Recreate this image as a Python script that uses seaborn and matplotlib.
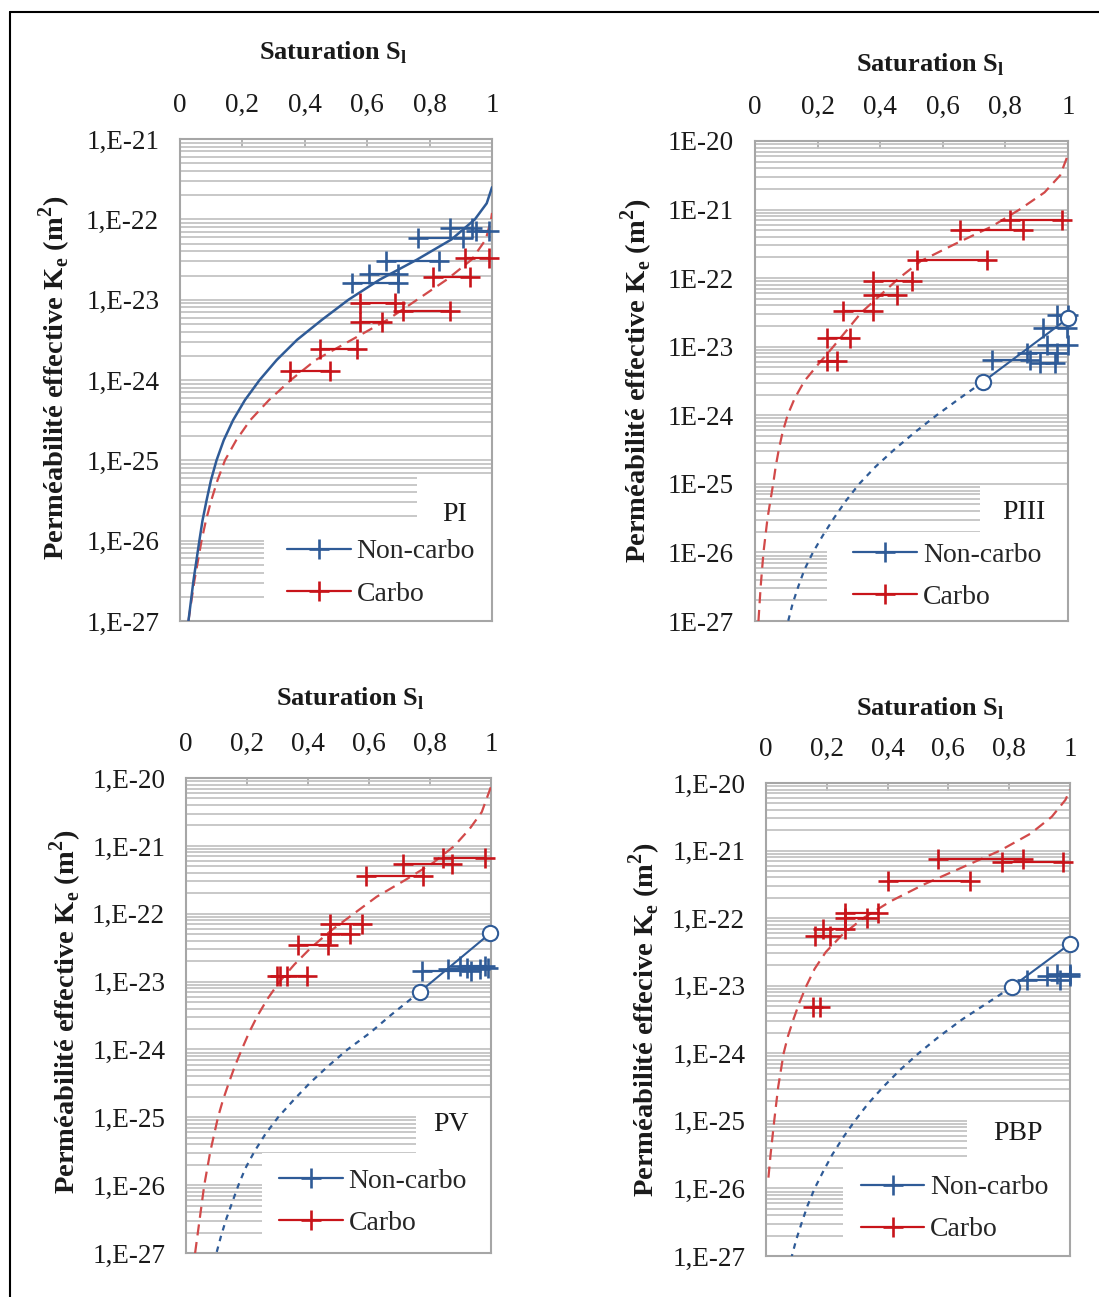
import numpy as np
import pandas as pd
import seaborn as sns
import matplotlib
matplotlib.use("Agg")
import matplotlib.pyplot as plt
from matplotlib.lines import Line2D
from matplotlib.patches import Rectangle
from matplotlib.ticker import LogLocator, NullFormatter

# ---------------- data ----------------
# measured ranges: permeability K (m2), saturation min / max
# PI
pi_nc_k = [7.9e-23, 7.1e-23, 5.8e-23, 3.0e-23, 2.1e-23, 1.6e-23]
pi_nc_s1 = [0.865, 0.95, 0.764, 0.66, 0.607, 0.55]
pi_nc_s2 = [0.935, 0.99, 0.908, 0.83, 0.70, 0.70]
pi_c_k = [3.3e-23, 1.9e-23, 9.0e-24, 7.2e-24, 5.3e-24, 2.4e-24, 1.3e-24]
pi_c_s1 = [0.913, 0.81, 0.577, 0.716, 0.577, 0.449, 0.353]
pi_c_s2 = [0.99, 0.93, 0.689, 0.865, 0.646, 0.566, 0.481]
# fitted curves (saturation, log10 K)
pi_nc_fit_s = [0.027, 0.043, 0.062, 0.072, 0.085, 0.099, 0.117, 0.14, 0.17, 0.208, 0.255,
               0.31, 0.375, 0.455, 0.54, 0.64, 0.76, 0.87, 0.945, 0.983, 1.0]
pi_nc_fit_logk = [-27, -26.5, -26, -25.75, -25.5, -25.25, -25, -24.75, -24.5, -24.25, -24,
                  -23.75, -23.5, -23.25, -23, -22.75, -22.5, -22.25, -22, -21.8, -21.6]
pi_c_fit_s = [0.027, 0.046, 0.069, 0.083, 0.10, 0.12, 0.144, 0.18, 0.225, 0.285, 0.355,
              0.435, 0.55, 0.665, 0.76, 0.855, 0.935, 0.98, 0.997, 1.0]
pi_c_fit_logk = [-27, -26.5, -26, -25.75, -25.5, -25.25, -25, -24.75, -24.5, -24.25, -24,
                 -23.75, -23.5, -23.25, -23, -22.75, -22.5, -22.25, -22, -21.92]

# PIII
piii_nc_k = [2.9e-23, 1.86e-23, 1.07e-23, 8.1e-24, 6.4e-24, 5.7e-24]
piii_nc_s1 = [0.964, 0.921, 0.932, 0.868, 0.756, 0.91]
piii_nc_s2 = [1.0, 0.996, 1.0, 0.964, 0.879, 0.958]
piii_c_k = [7.05e-22, 5.0e-22, 1.84e-22, 9.1e-23, 5.7e-23, 3.3e-23, 1.33e-23, 6.2e-24]
piii_c_s1 = [0.815, 0.655, 0.516, 0.378, 0.378, 0.282, 0.229, 0.229]
piii_c_s2 = [0.98, 0.857, 0.74, 0.50, 0.453, 0.378, 0.304, 0.261]
piii_nc_fit_s = [0.729, 1.0]
piii_nc_fit_logk = [-23.51, -22.585]
piii_nc_ext_s = [0.729, 0.655, 0.58, 0.51, 0.445, 0.385, 0.333, 0.29, 0.252, 0.217, 0.185,
                 0.158, 0.138, 0.12, 0.106]
piii_nc_ext_logk = [-23.51, -23.75, -24, -24.25, -24.5, -24.75, -25, -25.25, -25.5, -25.75,
                    -26, -26.25, -26.5, -26.75, -27]
piii_c_fit_s = [0.011, 0.018, 0.027, 0.04, 0.058, 0.066, 0.076, 0.088, 0.104, 0.127, 0.158,
                0.203, 0.25, 0.295, 0.34, 0.40, 0.46, 0.53, 0.64, 0.755, 0.845, 0.925,
                0.975, 1.0]
piii_c_fit_logk = [-27, -26.5, -26, -25.5, -25, -24.75, -24.5, -24.25, -24, -23.75, -23.5,
                   -23.25, -23, -22.75, -22.5, -22.25, -22, -21.75, -21.5, -21.25, -21,
                   -20.75, -20.5, -20.2]

# PV
pv_nc_k = [1.45e-23, 1.55e-23, 1.7e-23, 1.6e-23]
pv_nc_s1 = [0.773, 0.86, 0.90, 0.92]
pv_nc_s2 = [0.935, 0.965, 0.98, 0.99]
pv_c_k = [6.7e-22, 5.4e-22, 3.6e-22, 6.95e-23, 5.1e-23, 3.5e-23, 1.21e-23, 1.21e-23]
pv_c_s1 = [0.844, 0.712, 0.592, 0.472, 0.472, 0.368, 0.297, 0.33]
pv_c_s2 = [0.98, 0.871, 0.778, 0.576, 0.538, 0.467, 0.31, 0.396]
pv_nc_fit_s = [0.767, 0.997]
pv_nc_fit_logk = [-23.15, -22.29]
pv_nc_ext_s = [0.767, 0.67, 0.605, 0.53, 0.465, 0.405, 0.352, 0.302, 0.26, 0.225, 0.195,
               0.172, 0.152, 0.132, 0.115, 0.10]
pv_nc_ext_logk = [-23.15, -23.5, -23.75, -24, -24.25, -24.5, -24.75, -25, -25.25, -25.5,
                  -25.75, -26, -26.25, -26.5, -26.75, -27]
pv_c_fit_s = [0.03, 0.045, 0.06, 0.08, 0.105, 0.121, 0.14, 0.16, 0.183, 0.207, 0.235, 0.268,
              0.307, 0.355, 0.41, 0.475, 0.55, 0.625, 0.72, 0.81, 0.88, 0.93, 0.97, 1.0]
pv_c_fit_logk = [-27, -26.5, -26, -25.5, -25, -24.75, -24.5, -24.25, -24, -23.75, -23.5,
                 -23.25, -23, -22.75, -22.5, -22.25, -22, -21.75, -21.5, -21.25, -21,
                 -20.75, -20.5, -20.13]

# PBP
pbp_nc_k = [1.2e-23, 1.41e-23, 1.48e-23]
pbp_nc_s1 = [0.857, 0.923, 0.956]
pbp_nc_s2 = [0.967, 1.0, 1.0]
pbp_c_k = [7.4e-22, 6.8e-22, 3.56e-22, 1.19e-22, 1.02e-22, 7.0e-23, 5.4e-23, 4.8e-24]
pbp_c_s1 = [0.567, 0.775, 0.402, 0.26, 0.26, 0.189, 0.161, 0.154]
pbp_c_s2 = [0.846, 0.978, 0.671, 0.37, 0.331, 0.26, 0.211, 0.178]
pbp_nc_fit_s = [0.808, 1.0]
pbp_nc_fit_logk = [-23.02, -22.38]
pbp_nc_ext_s = [0.808, 0.73, 0.645, 0.57, 0.502, 0.44, 0.385, 0.335, 0.292, 0.253, 0.218,
                0.188, 0.16, 0.137, 0.118, 0.10, 0.085]
pbp_nc_ext_logk = [-23.02, -23.25, -23.5, -23.75, -24, -24.25, -24.5, -24.75, -25, -25.25,
                   -25.5, -25.75, -26, -26.25, -26.5, -26.75, -27]
pbp_c_fit_s = [0.008, 0.015, 0.027, 0.04, 0.058, 0.072, 0.09, 0.11, 0.133, 0.16, 0.197,
               0.25, 0.32, 0.41, 0.52, 0.645, 0.77, 0.87, 0.94, 0.985, 1.0]
pbp_c_fit_logk = [-25.84, -25.5, -25, -24.5, -24, -23.75, -23.5, -23.25, -23, -22.75, -22.5,
                  -22.25, -22, -21.75, -21.5, -21.25, -21, -20.75, -20.5, -20.25, -20.1]

x_ticks = [0, 0.2, 0.4, 0.6, 0.8, 1]
x_tick_labels = ["0", "0,2", "0,4", "0,6", "0,8", "1"]

BLUE = "#2f5b97"
RED = "#c8141a"
RED_FIT = "#d24a4a"
GRID = "#c4c4c4"
SPINE = "#a6a6a6"
TXT = "#1a1a1a"

sns.set_style("white")
plt.rcParams["font.family"] = ["Liberation Serif", "DejaVu Serif"]
plt.rcParams["mathtext.fontset"] = "custom"
plt.rcParams["mathtext.rm"] = "Liberation Serif"
plt.rcParams["mathtext.bf"] = "Liberation Serif:bold"


def seg_frame(k, s1, s2):
    rows = []
    for i, (kk, a, b) in enumerate(zip(k, s1, s2)):
        rows.append({"s": a, "k": kk, "seg": i})
        rows.append({"s": b, "k": kk, "seg": i})
    return pd.DataFrame(rows)


def draw_segments(ax, k, s1, s2, color):
    df = seg_frame(k, s1, s2)
    sns.lineplot(data=df, x="s", y="k", units="seg", estimator=None, sort=False,
                 color=color, lw=1.6, marker="+", markersize=14,
                 markeredgecolor=color, markeredgewidth=1.9,
                 legend=False, ax=ax, zorder=4, clip_on=False)


def draw_curve(ax, s, logk, color, ls, lw=1.6):
    k = np.power(10.0, logk)
    sns.lineplot(x=s, y=k, sort=False, estimator=None, color=color,
                 linestyle=ls, lw=lw, ax=ax, zorder=3)


panels = [
    dict(name="PI", rect=[0.1638, 0.5212, 0.2839, 0.3716], ytop=1e-21, comma=True,
         nc=(pi_nc_k, pi_nc_s1, pi_nc_s2), c=(pi_c_k, pi_c_s1, pi_c_s2),
         nc_fit=(pi_nc_fit_s, pi_nc_fit_logk), nc_ext=None, c_fit=(pi_c_fit_s, pi_c_fit_logk),
         xlab=(0.49, 1.164), ylab=(-0.40, 0.505), ytxt="effective",
         boxes=[(0.76, 0.187, 0.24, 0.113), (0.27, 0.0, 0.73, 0.187)],
         tag=(0.88, 0.222), leg=(0.644, 0.10)),
    dict(name="PIII", rect=[0.6870, 0.5212, 0.2848, 0.3701], ytop=1e-20, comma=False,
         nc=(piii_nc_k, piii_nc_s1, piii_nc_s2), c=(piii_c_k, piii_c_s1, piii_c_s2),
         nc_fit=(piii_nc_fit_s, piii_nc_fit_logk), nc_ext=(piii_nc_ext_s, piii_nc_ext_logk),
         c_fit=(piii_c_fit_s, piii_c_fit_logk),
         xlab=(0.56, 1.144), ylab=(-0.377, 0.5), ytxt="effective",
         boxes=[(0.72, 0.186, 0.28, 0.097), (0.23, 0.0, 0.77, 0.186)],
         tag=(0.86, 0.225), leg=(0.614, 0.094)),
    dict(name="PV", rect=[0.1692, 0.0339, 0.2775, 0.3662], ytop=1e-20, comma=True,
         nc=(pv_nc_k, pv_nc_s1, pv_nc_s2), c=(pv_c_k, pv_c_s1, pv_c_s2),
         nc_fit=(pv_nc_fit_s, pv_nc_fit_logk), nc_ext=(pv_nc_ext_s, pv_nc_ext_logk),
         c_fit=(pv_c_fit_s, pv_c_fit_logk),
         xlab=(0.54, 1.152), ylab=(-0.393, 0.507), ytxt="effective",
         boxes=[(0.754, 0.21, 0.246, 0.08), (0.248, 0.0, 0.752, 0.21)],
         tag=(0.87, 0.27), leg=(0.613, 0.107)),
    dict(name="PBP", rect=[0.6970, 0.0316, 0.2766, 0.3647], ytop=1e-20, comma=True,
         nc=(pbp_nc_k, pbp_nc_s1, pbp_nc_s2), c=(pbp_c_k, pbp_c_s1, pbp_c_s2),
         nc_fit=(pbp_nc_fit_s, pbp_nc_fit_logk), nc_ext=(pbp_nc_ext_s, pbp_nc_ext_logk),
         c_fit=(pbp_c_fit_s, pbp_c_fit_logk),
         xlab=(0.54, 1.142), ylab=(-0.398, 0.5), ytxt="effecive",
         boxes=[(0.66, 0.21, 0.34, 0.0775), (0.252, 0.0, 0.748, 0.21)],
         tag=(0.83, 0.26), leg=(0.62, 0.10)),
]

fig = plt.figure(figsize=(10.99, 12.97), dpi=100)

for p in panels:
    ax = fig.add_axes(p["rect"])
    ax.set_yscale("log")
    ax.set_xlim(0, 1)
    ax.set_ylim(1e-27, p["ytop"])
    ax.set_axisbelow(True)

    exps = list(range(-27, int(round(np.log10(p["ytop"]))) + 1))
    ax.set_yticks([10.0 ** e for e in exps])
    fmt = "1,E{}" if p["comma"] else "1E{}"
    ax.set_yticklabels([fmt.format(e) for e in exps])
    ax.yaxis.set_minor_locator(LogLocator(base=10, subs=np.arange(2, 10), numticks=30))
    ax.yaxis.set_minor_formatter(NullFormatter())
    ax.grid(True, axis="y", which="both", color=GRID, lw=1.3)
    ax.grid(False, axis="x")

    ax.xaxis.tick_top()
    ax.set_xticks(x_ticks)
    ax.set_xticklabels(x_tick_labels)
    ax.tick_params(axis="x", direction="in", length=6, width=1.2, color=SPINE,
                   labelsize=19.5, pad=15, labelcolor=TXT)
    ax.tick_params(axis="y", which="major", direction="in", length=5, width=1.2,
                   color=SPINE, labelsize=19.5, pad=15, labelcolor=TXT)
    ax.tick_params(axis="y", which="minor", direction="in", length=3, width=1.0, color=SPINE)
    for sp in ax.spines.values():
        sp.set_color(SPINE)
        sp.set_linewidth(1.5)

    for (bx, by, bw, bh) in p["boxes"]:
        ax.add_patch(Rectangle((bx, by), bw, bh, transform=ax.transAxes,
                               facecolor="white", edgecolor="none", zorder=1))

    # fitted curves
    draw_curve(ax, *p["c_fit"], RED_FIT, (0, (5, 3)))
    if p["nc_ext"] is None:
        draw_curve(ax, *p["nc_fit"], BLUE, "-", lw=1.8)
    else:
        draw_curve(ax, *p["nc_ext"], BLUE, (0, (2.5, 2.5)))
        draw_curve(ax, *p["nc_fit"], BLUE, "-", lw=1.5)
        ax.plot(p["nc_fit"][0], np.power(10.0, p["nc_fit"][1]), ls="none", marker="o", ms=11,
                mfc="white", mec=BLUE, mew=1.5, zorder=6, clip_on=False)

    # measurements
    draw_segments(ax, *p["c"], RED)
    draw_segments(ax, *p["nc"], BLUE)

    ax.set_xlabel("Saturation S$_\\mathbf{l}$", fontsize=19, fontweight="bold", color=TXT,
                  va="center")
    ax.xaxis.set_label_position("top")
    ax.xaxis.set_label_coords(*p["xlab"])
    ax.set_ylabel("Perméabilité " + p["ytxt"] + " K$_\\mathbf{e}$ (m$^\\mathbf{2}$)",
                  fontsize=20.5, fontweight="bold", color=TXT, va="center")
    ax.yaxis.set_label_coords(*p["ylab"])

    ax.text(p["tag"][0], p["tag"][1], p["name"], transform=ax.transAxes,
            fontsize=20, ha="center", va="center", color=TXT, zorder=7)

    handles = [Line2D([0], [0], color=BLUE, lw=1.6, marker="+", ms=14, mew=1.9),
               Line2D([0], [0], color=RED, lw=1.6, marker="+", ms=14, mew=1.9)]
    ax.legend(handles, ["Non-carbo", "Carbo"], loc="center", bbox_to_anchor=p["leg"],
              frameon=False, fontsize=20, handlelength=2.3, handletextpad=0.2,
              labelspacing=0.6, borderpad=0.2)

# outer frame of the original figure
fig.add_artist(Line2D([10 / 1099, 10 / 1099], [0, 1 - 12 / 1297], color="black", lw=1.5,
                      transform=fig.transFigure))
fig.add_artist(Line2D([10 / 1099, 1], [1 - 12 / 1297, 1 - 12 / 1297], color="black", lw=1.5,
                      transform=fig.transFigure))

fig.savefig("out.png", dpi=100, facecolor="white")
